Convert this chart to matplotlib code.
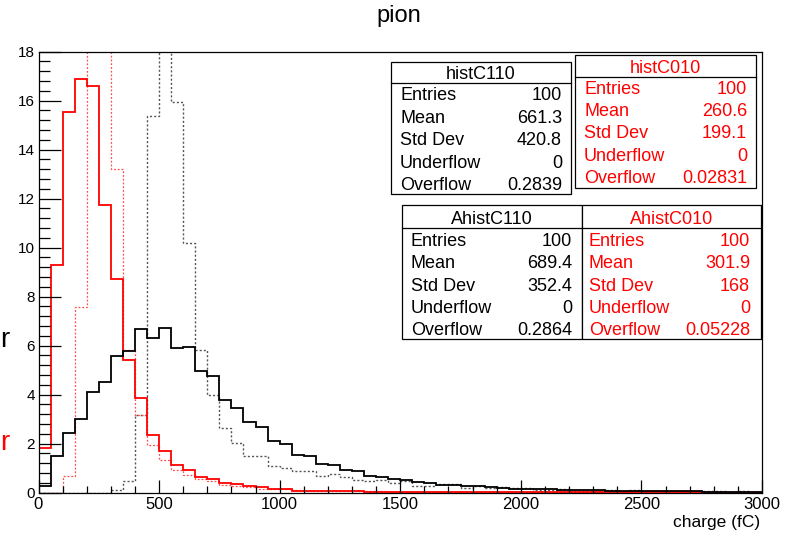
import numpy as np
import matplotlib
matplotlib.use("Agg")
import matplotlib.pyplot as plt
from matplotlib.patches import Rectangle
from matplotlib.ticker import MultipleLocator

plt.rcParams['font.family'] = ['Liberation Sans', 'DejaVu Sans']

# 60 bins of 50 fC from 0 to 3000
bin_edges = np.arange(0, 3001, 50)

# histC110 (black solid)
histC110 = [0.25, 1.50, 2.42, 3.01, 4.10, 4.53, 5.58, 5.76, 6.67, 6.30,
            6.71, 5.89, 5.92, 4.97, 4.74, 3.78, 3.44, 2.86, 2.67, 2.11,
            1.99, 1.54, 1.47, 1.17, 1.13, 0.90, 0.86, 0.69, 0.63, 0.54,
            0.52, 0.44, 0.38, 0.31, 0.31, 0.27, 0.25, 0.22, 0.20, 0.15,
            0.15, 0.15, 0.15, 0.10, 0.10, 0.10, 0.10, 0.07, 0.07, 0.07,
            0.07, 0.07, 0.07, 0.07, 0.07, 0.04, 0.04, 0.04, 0.04, 0.04]
# histC010 (red solid)
histC010 = [1.81, 9.29, 15.55, 16.87, 16.61, 11.74, 8.71, 5.39, 3.85, 2.35,
            1.71, 1.13, 0.90, 0.65, 0.56, 0.38, 0.34, 0.25, 0.22, 0.14,
            0.14, 0.08, 0.08, 0.07, 0.07, 0.07, 0.07, 0.02, 0.02, 0.02,
            0.02, 0.02, 0.02, 0.02, 0.02, 0.02, 0.02, 0.02, 0.02, 0.02,
            0.02, 0.02, 0.02, 0.02, 0.02, 0.02, 0.02, 0.02, 0.02, 0.02,
            0.02, 0.02, 0.02, 0.02, 0.02, 0.0, 0.0, 0.0, 0.0, 0.0]
# AhistC110 (black dotted)
AhistC110 = [0.0, 0.0, 0.0, 0.0, 0.0, 0.0, 0.10, 0.45, 3.17, 15.35,
             26.0, 15.93, 10.18, 5.80, 3.96, 2.63, 2.01, 1.47, 1.50, 1.09,
             0.99, 0.86, 0.86, 0.69, 0.76, 0.63, 0.52, 0.45, 0.49, 0.38,
             0.45, 0.27, 0.27, 0.35, 0.35, 0.18, 0.25, 0.20, 0.22, 0.18,
             0.18, 0.12, 0.10, 0.15, 0.08, 0.08, 0.08, 0.10, 0.08, 0.10,
             0.06, 0.06, 0.06, 0.06, 0.06, 0.05, 0.05, 0.03, 0.05, 0.03]
# AhistC010 (red dotted)
AhistC010 = [0.0, 0.0, 0.68, 7.56, 30.0, 31.0, 13.2, 5.80, 3.17, 1.95,
             1.33, 0.90, 0.72, 0.54, 0.45, 0.31, 0.27, 0.22, 0.16, 0.14,
             0.14, 0.11, 0.08, 0.08, 0.07, 0.05, 0.05, 0.05, 0.07, 0.03,
             0.03, 0.03, 0.03, 0.03, 0.03, 0.03, 0.03, 0.03, 0.03, 0.03,
             0.03, 0.02, 0.02, 0.02, 0.02, 0.02, 0.02, 0.02, 0.02, 0.02,
             0.02, 0.02, 0.02, 0.02, 0.02, 0.02, 0.02, 0.02, 0.02, 0.02]

stat_labels = ["Entries", "Mean", "Std Dev", "Underflow", "Overflow"]
stats_histC110 = ["100", "661.3", "420.8", "0", "0.2839"]
stats_histC010 = ["100", "260.6", "199.1", "0", "0.02831"]
stats_AhistC110 = ["100", "689.4", "352.4", "0", "0.2864"]
stats_AhistC010 = ["100", "301.9", "168", "0", "0.05228"]

W, H = 795, 536
fig = plt.figure(figsize=(W / 100, H / 100), dpi=100)
ax = fig.add_axes([38.5 / W, 1 - 492.5 / H, (762 - 38.5) / W, (492.5 - 51.5) / H])

ax.stairs(AhistC110, bin_edges, color="#555555", lw=1.0, ls=(0, (1.5, 1.5)))
ax.stairs(AhistC010, bin_edges, color="#ff4d4d", lw=0.9, ls=(0, (1.5, 1.5)))
ax.stairs(histC010, bin_edges, color="red", lw=1.3)
ax.stairs(histC110, bin_edges, color="black", lw=1.3)

ax.set_xlim(0, 3000)
ax.set_ylim(0, 18)
ax.xaxis.set_major_locator(MultipleLocator(500))
ax.xaxis.set_minor_locator(MultipleLocator(100))
ax.yaxis.set_major_locator(MultipleLocator(2))
ax.yaxis.set_minor_locator(MultipleLocator(0.4))
ax.tick_params(which='both', direction='in', top=False, right=False)
ax.tick_params(axis='x', which='major', length=9.4, width=0.9, labelsize=12, pad=3)
ax.tick_params(axis='x', which='minor', length=5.0, width=0.9)
ax.tick_params(axis='y', which='major', length=15.8, width=0.9, labelsize=11, pad=2.5)
ax.tick_params(axis='y', which='minor', length=7.9, width=0.9)
for s in ax.spines.values():
    s.set_linewidth(0.9)


def px(x, y):
    return x / W, 1 - y / H


def stat_box(left, right, top, sep, bottom, title, title_base, values, bases,
             text_left, text_right, color):
    fig.patches.append(Rectangle(px(left, bottom), (right - left) / W, (bottom - top) / H,
                                 transform=fig.transFigure, fill=True, fc="white",
                                 ec="black", lw=0.9, zorder=5))
    fig.add_artist(plt.Line2D([left / W, right / W], [1 - sep / H, 1 - sep / H],
                              transform=fig.transFigure, color="black", lw=0.9, zorder=6))
    fig.text(*px((left + right) / 2, title_base), title, ha="center", va="baseline",
             fontsize=13, color=color, zorder=7)
    for lab, val, b in zip(stat_labels, values, bases):
        fig.text(*px(text_left, b), lab, ha="left", va="baseline", fontsize=13,
                 color=color, zorder=7)
        fig.text(*px(text_right, b), val, ha="right", va="baseline", fontsize=13,
                 color=color, zorder=7)


stat_box(391, 571, 61.7, 82.7, 194, "histC110", 79.3, stats_histC110,
         [100, 122.7, 145, 168.3, 190], 400, 562, "black")
stat_box(575, 756, 55, 76.7, 188.3, "histC010", 72.7, stats_histC010,
         [94, 116, 138.3, 161, 182.7], 584, 747, "red")
stat_box(401.7, 582.3, 205, 227.7, 339.3, "AhistC110", 224, stats_AhistC110,
         [246, 268.3, 290.7, 312.7, 335], 410.7, 572, "black")
stat_box(582.3, 761, 205, 227.7, 339.3, "AhistC010", 224, stats_AhistC010,
         [246, 268.3, 290.7, 312.7, 335], 589, 750, "red")

fig.text(*px(399, 21.7), "pion", ha="center", va="baseline", fontsize=17)
fig.text(*px(760, 526.7), "charge (fC)", ha="right", va="baseline", fontsize=12.5)
fig.text(*px(9, 347), "r", ha="right", va="baseline", fontsize=20, color="black")
fig.text(*px(9, 450), "r", ha="right", va="baseline", fontsize=20, color="red")

fig.savefig("out.png", dpi=100)
